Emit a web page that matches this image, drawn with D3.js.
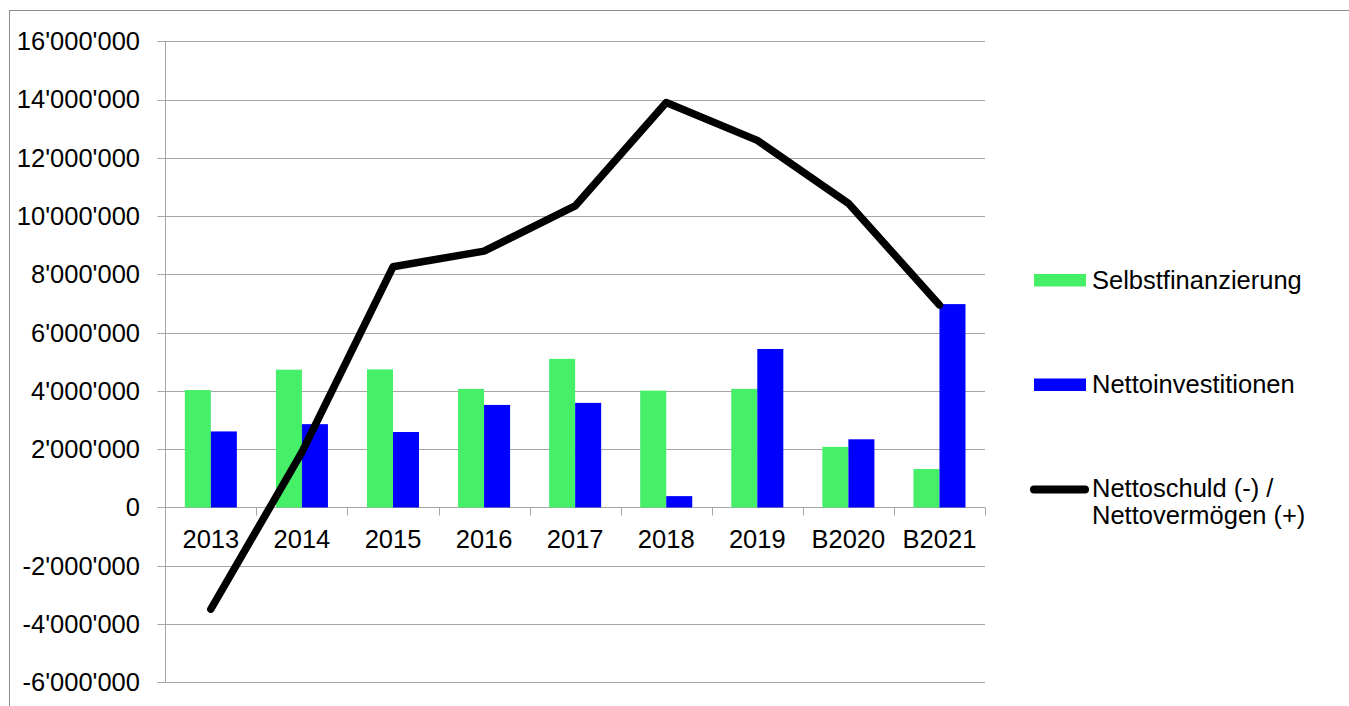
<!DOCTYPE html>
<html>
<head>
<meta charset="utf-8">
<script src="https://cdn.jsdelivr.net/npm/d3@7"></script>
<style>
    html, body { margin: 0; padding: 0; background: #fff; }
    svg { display: block; }
    text { font-family: "Liberation Sans", Arial, sans-serif; fill: #000; }
</style>
</head>
<body>
<svg id="chart" width="1349" height="706"></svg>
<script>
// chart data
var years = ["2013", "2014", "2015", "2016", "2017", "2018", "2019", "B2020", "B2021"];
var selbstfinanzierung = [4030000, 4730000, 4740000, 4070000, 5100000, 4010000, 4070000, 2080000, 1320000];
var nettoinvestitionen = [2610000, 2860000, 2590000, 3520000, 3590000, 390000, 5440000, 2340000, 6980000];
var nettovermoegen = [-3490000, 1900000, 8260000, 8800000, 10350000, 13900000, 12600000, 10440000, 6950000];
var yTicks = [-6000000, -4000000, -2000000, 0, 2000000, 4000000, 6000000, 8000000, 10000000, 12000000, 14000000, 16000000];
var legendLabels = ["Selbstfinanzierung", "Nettoinvestitionen", ["Nettoschuld (-) /", "Nettovermögen (+)"]];

var green = "#45ef68";
var blue = "#0000ff";
var gridColor = "#a6a6a6";
var fontSize = "25.5px";

var svg = d3.select("#chart");

var plot = { left: 165.3, right: 985, top: 41.3, bottom: 682.3 };

var x = d3.scaleBand()
    .domain(years)
    .range([plot.left, plot.right]);

var y = d3.scaleLinear()
    .domain([-6000000, 16000000])
    .range([plot.bottom, plot.top]);

var fmt = d3.formatLocale({
    decimal: ".",
    thousands: "'",
    grouping: [3],
    currency: ["", ""],
    minus: "-"
}).format(",");

// outer frame (only top/left visible)
svg.append("rect")
    .attr("x", 9.5)
    .attr("y", 10.5)
    .attr("width", 1400)
    .attr("height", 800)
    .attr("fill", "none")
    .attr("stroke", "#8c8c8c")
    .attr("stroke-width", 1);

// gridlines
svg.append("g")
    .selectAll("line")
    .data(yTicks)
    .enter()
    .append("line")
    .attr("x1", plot.left - 8)
    .attr("x2", plot.right)
    .attr("y1", d => Math.round(y(d)) + 0.5)
    .attr("y2", d => Math.round(y(d)) + 0.5)
    .attr("stroke", gridColor)
    .attr("stroke-width", 1);

// y axis line
svg.append("line")
    .attr("x1", Math.round(plot.left) + 0.5)
    .attr("x2", Math.round(plot.left) + 0.5)
    .attr("y1", plot.top)
    .attr("y2", plot.bottom)
    .attr("stroke", gridColor);

// y labels
svg.append("g")
    .selectAll("text")
    .data(yTicks)
    .enter()
    .append("text")
    .attr("x", 140)
    .attr("y", d => y(d))
    .attr("dy", "0.35em")
    .attr("text-anchor", "end")
    .attr("font-size", fontSize)
    .text(d => fmt(d));

// category ticks on the zero line
var y0 = Math.round(y(0)) + 0.5;
svg.append("g")
    .selectAll("line")
    .data(years)
    .enter()
    .append("line")
    .attr("x1", d => Math.round(x(d) + x.bandwidth()) + 0.5)
    .attr("x2", d => Math.round(x(d) + x.bandwidth()) + 0.5)
    .attr("y1", y0)
    .attr("y2", y0 + 8)
    .attr("stroke", gridColor);

// bars
var barW = x.bandwidth() / 3.5;
var groups = svg.append("g")
    .selectAll("g")
    .data(years)
    .enter()
    .append("g");

groups.append("rect")
    .attr("x", (d, i) => x(d) + x.bandwidth() / 2 - barW)
    .attr("y", (d, i) => y(selbstfinanzierung[i]))
    .attr("width", barW)
    .attr("height", (d, i) => y(0) - y(selbstfinanzierung[i]))
    .attr("fill", green);

groups.append("rect")
    .attr("x", (d, i) => x(d) + x.bandwidth() / 2)
    .attr("y", (d, i) => y(nettoinvestitionen[i]))
    .attr("width", barW)
    .attr("height", (d, i) => y(0) - y(nettoinvestitionen[i]))
    .attr("fill", blue);

// x labels
svg.append("g")
    .selectAll("text")
    .data(years)
    .enter()
    .append("text")
    .attr("x", d => x(d) + x.bandwidth() / 2)
    .attr("y", 548)
    .attr("text-anchor", "middle")
    .attr("font-size", fontSize)
    .text(d => d);

// line series
var line = d3.line()
    .x((d, i) => x(years[i]) + x.bandwidth() / 2)
    .y(d => y(d));

svg.append("path")
    .datum(nettovermoegen)
    .attr("d", line)
    .attr("fill", "none")
    .attr("stroke", "#000")
    .attr("stroke-width", 7.5)
    .attr("stroke-linejoin", "round")
    .attr("stroke-linecap", "round");

// legend
var legend = svg.append("g");

legend.append("rect")
    .attr("x", 1034).attr("y", 274).attr("width", 52).attr("height", 12.5)
    .attr("fill", green);
legend.append("text")
    .attr("x", 1092).attr("y", 288.5).attr("font-size", fontSize)
    .text(legendLabels[0]);

legend.append("rect")
    .attr("x", 1034).attr("y", 378.5).attr("width", 52).attr("height", 12.5)
    .attr("fill", blue);
legend.append("text")
    .attr("x", 1092).attr("y", 392.5).attr("font-size", fontSize)
    .text(legendLabels[1]);

legend.append("line")
    .attr("x1", 1034).attr("x2", 1085).attr("y1", 489.5).attr("y2", 489.5)
    .attr("stroke", "#000").attr("stroke-width", 8).attr("stroke-linecap", "round");
legend.append("text")
    .attr("x", 1092).attr("y", 497).attr("font-size", fontSize)
    .selectAll("tspan")
    .data(legendLabels[2])
    .enter()
    .append("tspan")
    .attr("x", 1092)
    .attr("dy", (d, i) => i ? 26.5 : 0)
    .text(d => d);
</script>
</body>
</html>
